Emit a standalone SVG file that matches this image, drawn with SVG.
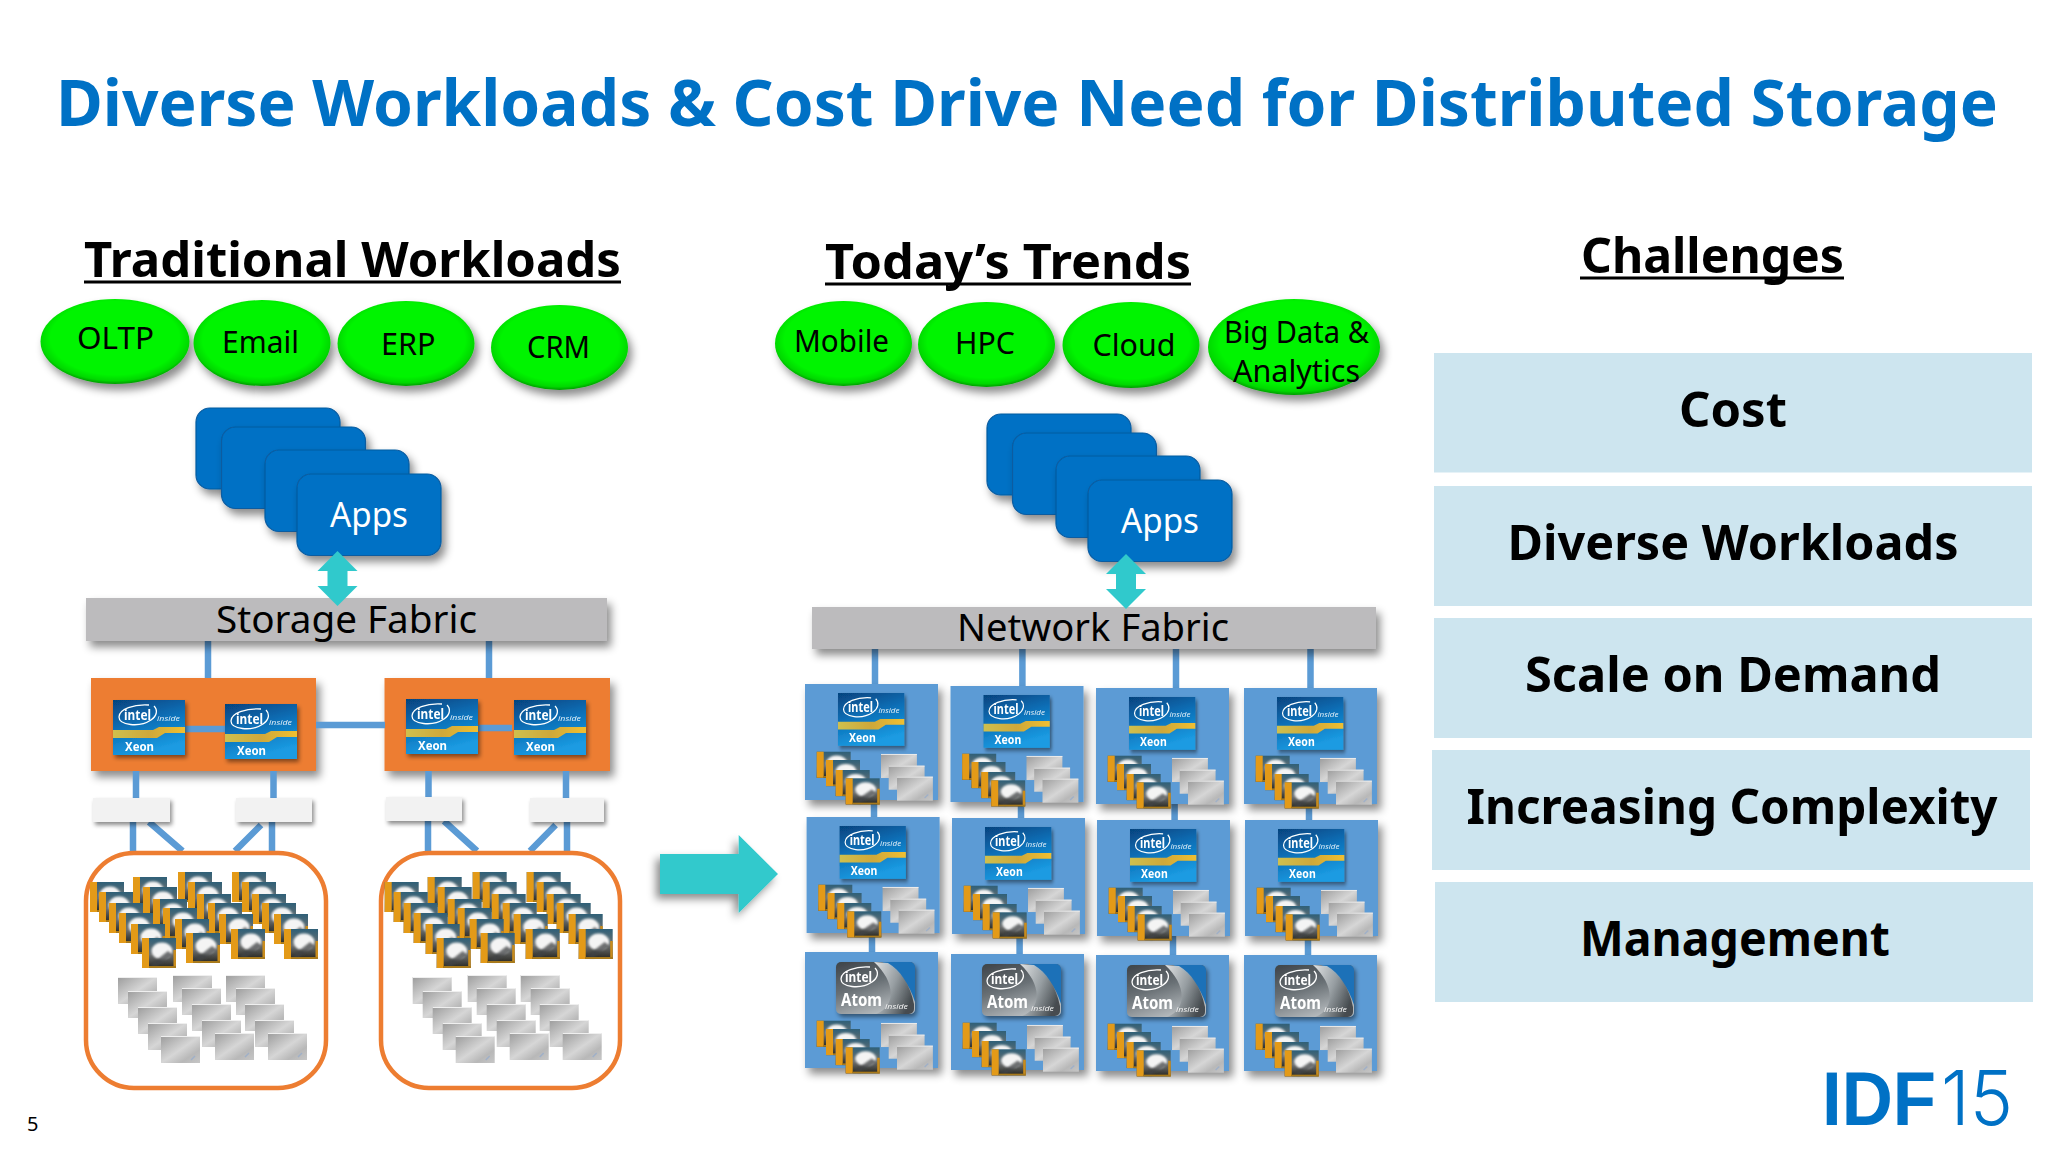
<svg xmlns="http://www.w3.org/2000/svg" xmlns:xlink="http://www.w3.org/1999/xlink" width="2048" height="1152" viewBox="0 0 2048 1152">
<style>
text{font-family:"Noto Sans","Open Sans","Liberation Sans",sans-serif;fill:#000}
.h{font-weight:700;font-size:49px}
.c{font-weight:700;font-size:49px;text-anchor:middle}
.o{font-size:31px}
.f{font-size:38px}
.a{font-size:35px;fill:#fff}
.link{stroke:#5b9bd5;stroke-width:6.5;fill:none}
.app{fill:#0071c5;stroke:#0a5ca0;stroke-width:1.2}
.green{fill:url(#gr)}
.board{fill:#ed7d31}
.white{fill:#f2f2f2}
.rack{fill:#fff;stroke:#ed7d31;stroke-width:4.5}
.fabric{fill:#bcbbbd}
.block{fill:#5b9bd5}
.ch{fill:#cde5ef}
.teal{fill:#30c9cc}
.ci{fill:#fff;font-weight:700}
</style>
<defs>
<filter id="sh" x="-20%" y="-30%" width="150%" height="170%"><feDropShadow dx="4" dy="6" stdDeviation="4" flood-color="#000" flood-opacity=".45"/></filter>
<filter id="ss" x="-20%" y="-20%" width="150%" height="150%"><feDropShadow dx="2" dy="3" stdDeviation="2" flood-color="#000" flood-opacity=".45"/></filter>
<filter id="sa" x="-20%" y="-20%" width="140%" height="150%"><feDropShadow dx="-4" dy="5" stdDeviation="4" flood-color="#000" flood-opacity=".45"/></filter>
<filter id="b1" x="-30%" y="-30%" width="160%" height="160%"><feGaussianBlur stdDeviation="1.2"/></filter>
<radialGradient id="gr" cx=".5" cy=".46" r=".54"><stop offset=".8" stop-color="#06f406"/><stop offset=".93" stop-color="#06d806"/><stop offset="1" stop-color="#049a04"/></radialGradient>
<linearGradient id="xg" x1="0" y1="0" x2=".35" y2="1"><stop offset="0" stop-color="#06437e"/><stop offset=".5" stop-color="#0a70b8"/><stop offset="1" stop-color="#1b9be2"/></linearGradient>
<linearGradient id="yg" x1="0" y1="0" x2="1" y2="0"><stop offset="0" stop-color="#cfc04e"/><stop offset=".5" stop-color="#cfa83a"/><stop offset="1" stop-color="#f0bf30"/></linearGradient>
<linearGradient id="ag" x1="0" y1="0" x2=".5" y2="1"><stop offset="0" stop-color="#3d4348"/><stop offset=".5" stop-color="#686f74"/><stop offset="1" stop-color="#b4b9bc"/></linearGradient>
<linearGradient id="as" x1="0" y1="0" x2="1" y2=".6"><stop offset="0" stop-color="#f2f4f5"/><stop offset=".55" stop-color="#9aa1a5"/><stop offset="1" stop-color="#3a4044"/></linearGradient>
<linearGradient id="sg" x1="0" y1="0" x2="1" y2="1"><stop offset="0" stop-color="#9c9c9c"/><stop offset=".5" stop-color="#d6d6d6"/><stop offset=".75" stop-color="#b8b8b8"/><stop offset="1" stop-color="#c6c6c6"/></linearGradient>
<linearGradient id="dg" x1="0" y1="0" x2="0" y2="1"><stop offset="0" stop-color="#2f6078"/><stop offset=".55" stop-color="#6d7071"/><stop offset="1" stop-color="#26251f"/></linearGradient>

<g id="disc">
<rect width="34" height="30" fill="url(#dg)"/>
<ellipse cx="20" cy="13" rx="10.500" ry="8.500" fill="#f4f4f4" filter="url(#b1)"/>
<path d="M8 27 L26 13 L31 17 L14 29Z" fill="#3f4244" opacity=".75" filter="url(#b1)"/>
<rect width="7" height="30" fill="#e39a18"/>
<rect x="31.500" y="12" width="2.500" height="18" fill="#c98c1c"/>
<rect x="7" y="28" width="27" height="2" fill="#a87a1c"/>
</g>
<g id="ssd">
<rect width="39" height="27" fill="url(#sg)"/>
<path d="M0 .5H39" stroke="#efefef" stroke-width="1"/>
<path d="M30 24l4-4" stroke="#9fb0c8" stroke-width="1.4"/>
</g>
<g id="xeon">
<rect width="72" height="55" fill="url(#xg)"/>
<path d="M0 30H40L46 27H72V33H52L44 38H0Z" fill="url(#yg)"/>
<path d="M36 5C21 4 6 9 6 17C6 25 26 28 38 20C44 16 45 10 41 6" fill="none" stroke="#fff" stroke-width="1.3"/>
<text class="ci" x="11" y="20" font-size="14.5" textLength="27" lengthAdjust="spacingAndGlyphs">intel</text>
<text x="44" y="21" font-size="6.5" font-style="italic" style="fill:#dbeaf5" textLength="23" lengthAdjust="spacingAndGlyphs">inside</text>
<text class="ci" x="12" y="51" font-size="12.5" textLength="29" lengthAdjust="spacingAndGlyphs">Xeon</text>
</g>
<g id="atom">
<rect width="79" height="52" rx="5" fill="url(#ag)"/>
<path d="M46 0H74a5 5 0 0 1 5 5V40C74 22 62 7 46 0Z" fill="#1e71b8"/>
<path d="M52 1C64 8 74 22 78 42V47a5 5 0 0 1-5 5H40C60 45 60 20 38 0Z" fill="url(#as)" opacity=".9"/>
<path d="M34 5C20 4 5 9 5 17C5 25 24 28 36 20C42 16 43 10 39 6" fill="none" stroke="#fff" stroke-width="1.3"/>
<text class="ci" x="9" y="20" font-size="14.5" textLength="27" lengthAdjust="spacingAndGlyphs">intel</text>
<text class="ci" x="5" y="44" font-size="17" textLength="41" lengthAdjust="spacingAndGlyphs">Atom</text>
<text x="49" y="47" font-size="6.5" font-style="italic" style="fill:#f0f0f0" textLength="23" lengthAdjust="spacingAndGlyphs">inside</text>
</g>
<g id="stack">
<use href="#disc" transform="translate(11.7,67.7) scale(1,.87)"/>
<use href="#disc" transform="translate(21,76) scale(1,.87)"/>
<use href="#disc" transform="translate(30.7,86) scale(1,.87)"/>
<use href="#disc" transform="translate(40.7,94.3) scale(1,.87)"/>
<use href="#ssd" transform="translate(76,70) scale(.92,.89)"/>
<use href="#ssd" transform="translate(83.7,81.7) scale(.92,.89)"/>
<use href="#ssd" transform="translate(92,92.7) scale(.92,.89)"/>
</g>
<g id="bx">
<rect class="block" width="133" height="116" filter="url(#sh)"/>
<use href="#xeon" transform="translate(33,9) scale(.92,.96)" filter="url(#ss)"/>
<use href="#stack"/>
</g>
<g id="ba">
<rect class="block" width="133" height="116" filter="url(#sh)"/>
<use href="#atom" transform="translate(31,10)" filter="url(#ss)"/>
<use href="#stack" transform="translate(0,1)"/>
</g>
<g id="drives">
<use href="#disc" x="90" y="882"/><use href="#disc" x="133" y="877"/><use href="#disc" x="178" y="872"/><use href="#disc" x="232" y="872"/>
<use href="#disc" x="99" y="892"/><use href="#disc" x="143" y="887"/><use href="#disc" x="188" y="882"/><use href="#disc" x="242" y="882"/>
<use href="#disc" x="109" y="903"/><use href="#disc" x="153" y="899"/><use href="#disc" x="197" y="894"/><use href="#disc" x="252" y="894"/>
<use href="#disc" x="119" y="913"/><use href="#disc" x="163" y="908"/><use href="#disc" x="208" y="903"/><use href="#disc" x="262" y="903"/>
<use href="#disc" x="131" y="924"/><use href="#disc" x="175" y="919"/><use href="#disc" x="219" y="914"/><use href="#disc" x="274" y="914"/>
<use href="#disc" x="142" y="938"/><use href="#disc" x="186" y="933"/><use href="#disc" x="231" y="929"/><use href="#disc" x="284" y="929"/>
<use href="#ssd" x="118" y="977"/><use href="#ssd" x="173" y="975"/><use href="#ssd" x="226" y="975"/>
<use href="#ssd" x="128" y="991"/><use href="#ssd" x="182" y="988"/><use href="#ssd" x="236" y="988"/>
<use href="#ssd" x="138" y="1007"/><use href="#ssd" x="192" y="1004"/><use href="#ssd" x="245" y="1004"/>
<use href="#ssd" x="148" y="1023"/><use href="#ssd" x="202" y="1020"/><use href="#ssd" x="255" y="1020"/>
<use href="#ssd" x="161" y="1036"/><use href="#ssd" x="215" y="1033"/><use href="#ssd" x="268" y="1033"/>
</g>
<path id="dbl" d="M0 -27.5L20 -7.5H10V7.5H20L0 27.5L-20 7.5H-10V-7.5H-20Z"/>
</defs>

<rect width="2048" height="1152" fill="#fff"/>
<text id="title" x="56" y="126" style="font-weight:700;font-size:65px;fill:#0071c5" textLength="1942" lengthAdjust="spacingAndGlyphs">Diverse Workloads &amp; Cost Drive Need for Distributed Storage</text>

<text class="h" x="84" y="277" textLength="537" lengthAdjust="spacingAndGlyphs">Traditional Workloads</text>
<rect x="84" y="280.5" width="537" height="3"/>
<text class="h" x="825" y="279" textLength="366" lengthAdjust="spacingAndGlyphs">Today’s Trends</text>
<rect x="825" y="282.5" width="366" height="3"/>
<text class="h" x="1581" y="273" textLength="263" lengthAdjust="spacingAndGlyphs">Challenges</text>
<rect x="1580" y="276.5" width="264" height="3"/>

<g id="server-boards">
<rect id="server-1" class="board" x="91" y="678" width="225" height="93" filter="url(#sh)"/>
<rect id="server-2" class="board" x="384.5" y="678" width="225.5" height="93" filter="url(#sh)"/>
</g>

<g id="connectors">
<path class="link" d="M208 640V678M489 640V678M316 725H385M181 729H225M476 728H512"/>
<path class="link" d="M136 771V798M273.5 771V798M428.5 771V797M566 771V798"/>
<path class="link" d="M133 822V851M149 822L182.500 851M261 825L235 851M272 822V851"/>
<path class="link" d="M428 821V851M444 821L477 851M555.600 825L530 851M567 822V851"/>
<path class="link" d="M875 645V684M1022.400 645V686M1176 645V688M1310.500 645V688"/>
<path class="link" d="M874 800V817M1021 802V818M1174.600 803V820M1309 803V820"/>
<path class="link" d="M872 932V952M1019.600 934V954M1173 935V955M1308 935V955"/>
</g>

<g id="workloads-left">
<g id="oltp"><ellipse class="green" cx="115" cy="341.500" rx="74.500" ry="42.500" filter="url(#sh)"/><text class="o" x="77" y="349" textLength="77" lengthAdjust="spacingAndGlyphs">OLTP</text></g>
<g id="email"><ellipse class="green" cx="262" cy="343" rx="68.500" ry="43" filter="url(#sh)"/><text class="o" x="222" y="353" textLength="77" lengthAdjust="spacingAndGlyphs">Email</text></g>
<g id="erp"><ellipse class="green" cx="406" cy="343.500" rx="68.500" ry="42.500" filter="url(#sh)"/><text class="o" x="381" y="355" textLength="54.500" lengthAdjust="spacingAndGlyphs">ERP</text></g>
<g id="crm"><ellipse class="green" cx="559.500" cy="347.500" rx="68.500" ry="42.500" filter="url(#sh)"/><text class="o" x="527" y="358" textLength="63" lengthAdjust="spacingAndGlyphs">CRM</text></g>
</g>
<g id="workloads-right">
<g id="mobile"><ellipse class="green" cx="843.500" cy="343.500" rx="68.500" ry="42.500" filter="url(#sh)"/><text class="o" x="794" y="352" textLength="95" lengthAdjust="spacingAndGlyphs">Mobile</text></g>
<g id="hpc"><ellipse class="green" cx="986.500" cy="344.500" rx="68.500" ry="42.500" filter="url(#sh)"/><text class="o" x="955" y="354" textLength="60" lengthAdjust="spacingAndGlyphs">HPC</text></g>
<g id="cloud"><ellipse class="green" cx="1131" cy="345" rx="68.500" ry="43" filter="url(#sh)"/><text class="o" x="1092.500" y="356" textLength="83" lengthAdjust="spacingAndGlyphs">Cloud</text></g>
<g id="bigdata"><ellipse class="green" cx="1294" cy="347" rx="86" ry="48" filter="url(#sh)"/><text class="o" x="1224" y="343" textLength="145" lengthAdjust="spacingAndGlyphs">Big Data &amp;</text><text class="o" x="1233" y="382" textLength="127" lengthAdjust="spacingAndGlyphs">Analytics</text></g>
</g>

<g id="apps-left">
<rect class="app" x="196" y="408" width="144" height="81" rx="14" filter="url(#sh)"/>
<rect class="app" x="221.500" y="427" width="144" height="81.500" rx="14" filter="url(#sh)"/>
<rect class="app" x="265" y="450" width="144" height="81.500" rx="14" filter="url(#sh)"/>
<rect class="app" x="297" y="474" width="144" height="81.500" rx="14" filter="url(#sh)"/>
<text class="a" x="330" y="527" textLength="78" lengthAdjust="spacingAndGlyphs">Apps</text>
</g>
<g id="apps-right">
<rect class="app" x="987" y="414" width="144" height="81" rx="14" filter="url(#sh)"/>
<rect class="app" x="1012.500" y="433" width="144" height="81.500" rx="14" filter="url(#sh)"/>
<rect class="app" x="1056" y="456" width="144" height="81.500" rx="14" filter="url(#sh)"/>
<rect class="app" x="1088" y="480" width="144" height="81.500" rx="14" filter="url(#sh)"/>
<text class="a" x="1121" y="533" textLength="78" lengthAdjust="spacingAndGlyphs">Apps</text>
</g>

<g id="storage-fabric">
<rect class="fabric" x="86" y="598" width="521" height="43" filter="url(#sh)"/>
<use href="#dbl" class="teal" x="337.500" y="578.500"/>
<text class="f" x="216" y="633" textLength="261" lengthAdjust="spacingAndGlyphs">Storage Fabric</text>
</g>
<g id="network-fabric">
<rect class="fabric" x="812" y="607" width="564" height="42" filter="url(#sh)"/>
<use href="#dbl" class="teal" x="1126" y="581.500"/>
<text class="f" x="957" y="641" textLength="272" lengthAdjust="spacingAndGlyphs">Network Fabric</text>
</g>

<g id="cpu-1a"><use href="#xeon" x="113" y="700" filter="url(#ss)"/></g>
<g id="cpu-1b"><use href="#xeon" x="225" y="704" filter="url(#ss)"/></g>
<g id="cpu-2a"><use href="#xeon" x="406" y="699" filter="url(#ss)"/></g>
<g id="cpu-2b"><use href="#xeon" x="514" y="700" filter="url(#ss)"/></g>
<g id="hba-1"><rect class="white" x="93" y="798" width="77" height="24" filter="url(#ss)"/></g>
<g id="hba-2"><rect class="white" x="236" y="798" width="76" height="24" filter="url(#ss)"/></g>
<g id="hba-3"><rect class="white" x="386" y="797" width="76" height="24" filter="url(#ss)"/></g>
<g id="hba-4"><rect class="white" x="530" y="798" width="74" height="24" filter="url(#ss)"/></g>
<g id="rack-1"><rect class="rack" x="86" y="853" width="240" height="235" rx="48"/><use href="#drives"/></g>
<g id="rack-2"><rect class="rack" x="381" y="853" width="239" height="235" rx="48"/><use href="#drives" x="294.700"/></g>

<g id="arrow"><path class="teal" d="M660 854H738.700V835L778 874L738.700 913V894H660Z" filter="url(#sa)"/></g>

<g id="n11"><use href="#bx" x="805" y="684"/></g>
<g id="n12"><use href="#bx" x="950.500" y="686"/></g>
<g id="n13"><use href="#bx" x="1096" y="688"/></g>
<g id="n14"><use href="#bx" x="1244" y="688"/></g>
<g id="n21"><use href="#bx" x="806.600" y="817"/></g>
<g id="n22"><use href="#bx" x="952" y="818"/></g>
<g id="n23"><use href="#bx" x="1097" y="820"/></g>
<g id="n24"><use href="#bx" x="1245" y="820"/></g>
<g id="n31"><use href="#ba" x="805" y="952"/></g>
<g id="n32"><use href="#ba" x="951" y="954"/></g>
<g id="n33"><use href="#ba" x="1096" y="955"/></g>
<g id="n34"><use href="#ba" x="1244" y="955"/></g>

<g id="challenge-cost"><rect class="ch" x="1434" y="353" width="598" height="119.500"/><text class="c" x="1733" y="427">Cost</text></g>
<g id="challenge-diverse"><rect class="ch" x="1434" y="486" width="598" height="120"/><text class="c" x="1733" y="560" textLength="451" lengthAdjust="spacingAndGlyphs">Diverse Workloads</text></g>
<g id="challenge-scale"><rect class="ch" x="1434" y="618" width="598" height="120"/><text class="c" x="1733" y="692" textLength="416" lengthAdjust="spacingAndGlyphs">Scale on Demand</text></g>
<g id="challenge-complexity"><rect class="ch" x="1432" y="750" width="598" height="120"/><text class="c" x="1732" y="824" textLength="531" lengthAdjust="spacingAndGlyphs">Increasing Complexity</text></g>
<g id="challenge-management"><rect class="ch" x="1435" y="882" width="598" height="120"/><text class="c" x="1735" y="956" textLength="310" lengthAdjust="spacingAndGlyphs">Management</text></g>

<text x="27" y="1131" font-size="20">5</text>
<g id="logo">
<text x="1822" y="1125" style="font-family:'Liberation Sans',sans-serif;font-weight:700;font-size:76px;fill:#0071c5" textLength="114" lengthAdjust="spacingAndGlyphs">IDF</text>
<text x="1941" y="1125" style="font-family:Inter,'Open Sans',sans-serif;font-weight:300;font-size:76px;fill:#0071c5" textLength="72" lengthAdjust="spacingAndGlyphs">15</text>
</g>
</svg>
